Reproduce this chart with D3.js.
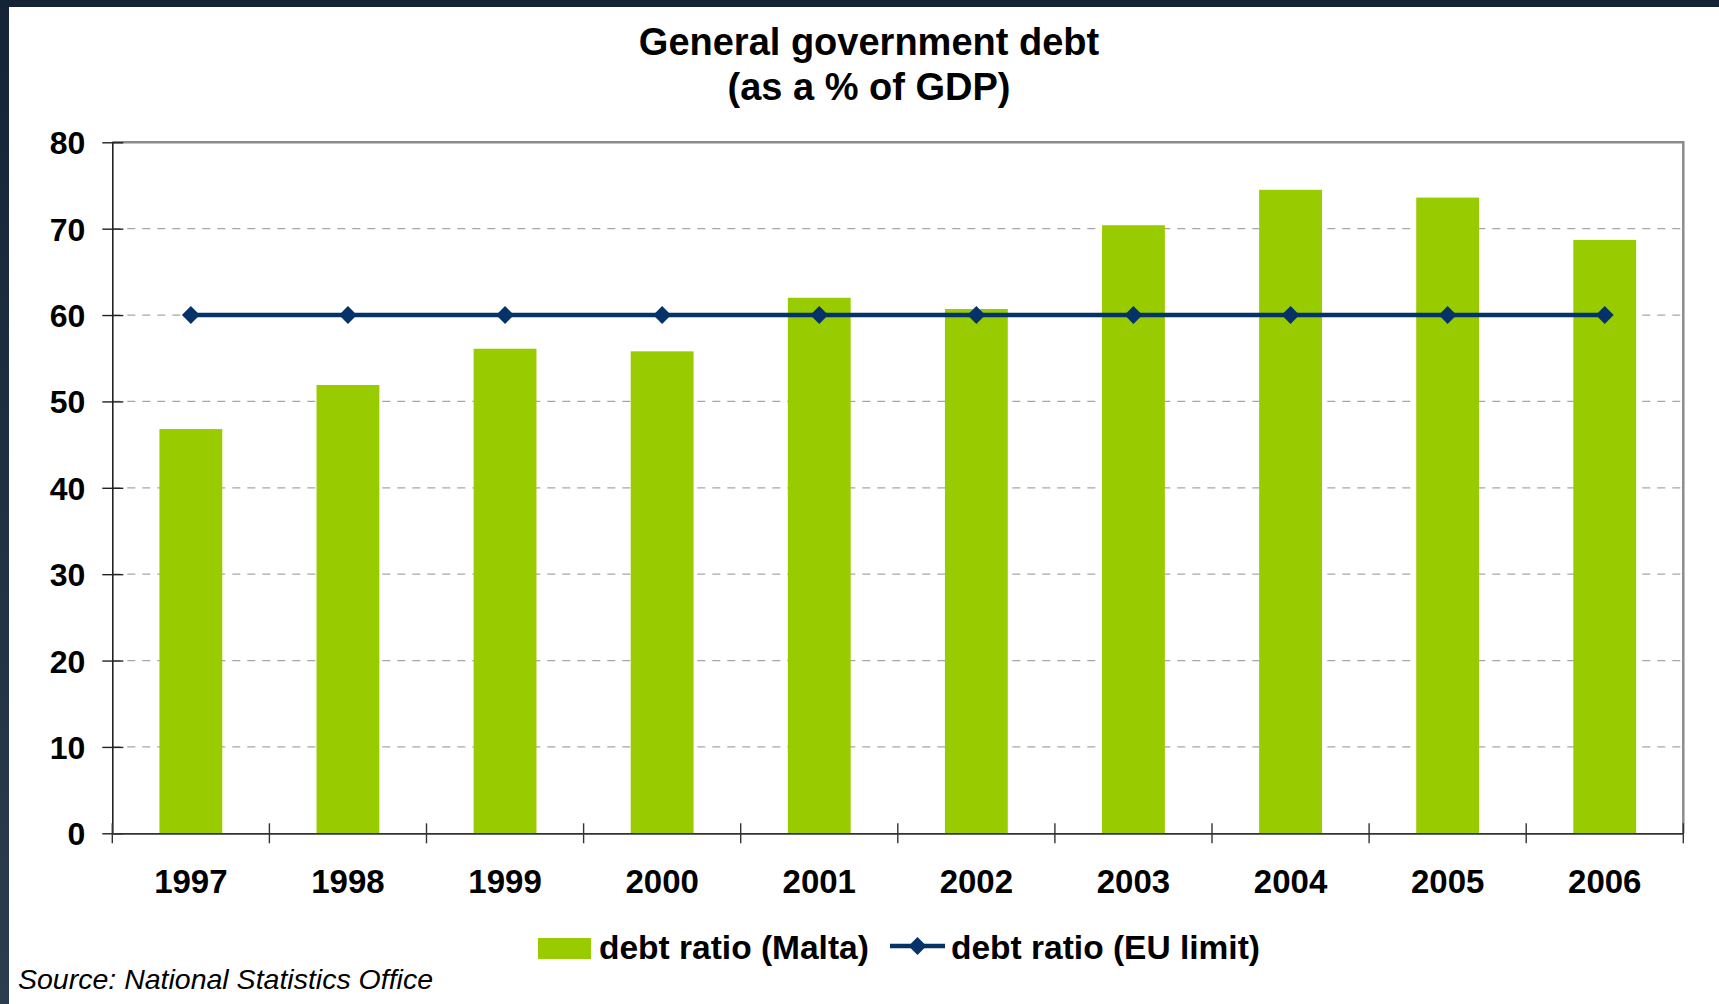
<!DOCTYPE html>
<html>
<head>
<meta charset="utf-8">
<script src="https://d3js.org/d3.v7.min.js"></script>
<style>
  body { margin: 0; background: #ffffff; }
  svg { display: block; font-family: "Liberation Sans", Arial, sans-serif; }
</style>
</head>
<body>
<div id="scene1"></div>
<script>
// chart data
var years = ["1997", "1998", "1999", "2000", "2001", "2002", "2003", "2004", "2005", "2006"];
var debtMalta = [46.8, 51.9, 56.1, 55.8, 62.0, 60.7, 70.4, 74.5, 73.6, 68.7];
var debtEuLimit = [60, 60, 60, 60, 60, 60, 60, 60, 60, 60];
var yTicks = [0, 10, 20, 30, 40, 50, 60, 70, 80];
var titleLines = ["General government debt", "(as a % of GDP)"];
var legendLabels = ["debt ratio (Malta)", "debt ratio (EU limit)"];
var sourceNote = "Source: National Statistics Office";

var barColor = "#99cc00";
var lineColor = "#06326a";

function init() {
    var W = 1719, H = 1004;
    var plot = {left: 112.3, right: 1683.3, top: 142.3, bottom: 833.3};

    var svg = d3.select("#scene1")
        .append("svg")
        .attr("width", W)
        .attr("height", H);

    // dark slide frame (top strip + left strip)
    var grad = svg.append("defs").append("linearGradient")
        .attr("id", "edge").attr("x1", 0).attr("y1", 0).attr("x2", 0).attr("y2", 1);
    grad.append("stop").attr("offset", "0%").attr("stop-color", "#142336");
    grad.append("stop").attr("offset", "100%").attr("stop-color", "#2c3c51");
    svg.append("rect").attr("x", 0).attr("y", 0).attr("width", 9).attr("height", H).attr("fill", "url(#edge)");
    svg.append("rect").attr("x", 0).attr("y", 0).attr("width", W).attr("height", 7).attr("fill", "#142336");

    // title
    svg.append("text")
        .attr("text-anchor", "middle")
        .attr("font-weight", "bold")
        .attr("font-size", 38)
        .attr("fill", "#000")
        .selectAll("tspan")
        .data(titleLines)
        .enter()
        .append("tspan")
        .attr("x", 869)
        .attr("y", function(d, i) { return 55 + i * 45; })
        .text(function(d) { return d; });

    // scales
    var x = d3.scaleBand()
        .domain(years)
        .range([plot.left, plot.right])
        .paddingInner(0.6)
        .paddingOuter(0.3);

    var y = d3.scaleLinear()
        .domain([0, 80])
        .range([plot.bottom, plot.top]);

    // dashed gridlines
    svg.append("g")
        .selectAll("line")
        .data(yTicks.filter(function(d) { return d > 0 && d < 80; }))
        .enter()
        .append("line")
        .attr("x1", plot.left)
        .attr("x2", plot.right)
        .attr("y1", function(d) { return y(d); })
        .attr("y2", function(d) { return y(d); })
        .attr("stroke", "#a6a6a6")
        .attr("stroke-width", 1.3)
        .attr("stroke-dasharray", "8,7");

    // top and right frame of the plot area
    svg.append("path")
        .attr("d", "M" + plot.left + "," + y(80) + "H" + plot.right + "V" + plot.bottom)
        .attr("fill", "none")
        .attr("stroke", "#8c8c8c")
        .attr("stroke-width", 2.5);

    // bars
    svg.append("g")
        .selectAll("rect")
        .data(years)
        .enter()
        .append("rect")
        .attr("x", function(d) { return x(d); })
        .attr("width", x.bandwidth())
        .attr("y", function(d, i) { return y(debtMalta[i]); })
        .attr("height", function(d, i) { return y(0) - y(debtMalta[i]); })
        .attr("fill", barColor);

    // EU limit line with diamond markers
    var line = d3.line()
        .x(function(d, i) { return x(years[i]) + x.bandwidth() / 2; })
        .y(function(d) { return y(d); });

    svg.append("path")
        .datum(debtEuLimit)
        .attr("d", line)
        .attr("fill", "none")
        .attr("stroke", lineColor)
        .attr("stroke-width", 4.5);

    var diamond = d3.symbol().type(d3.symbolSquare).size(160);
    svg.append("g")
        .selectAll("path")
        .data(debtEuLimit)
        .enter()
        .append("path")
        .attr("d", diamond)
        .attr("transform", function(d, i) {
            return "translate(" + (x(years[i]) + x.bandwidth() / 2) + "," + y(d) + ") rotate(45)";
        })
        .attr("fill", lineColor);

    // lets draw Y axis
    var yAxis = svg.append("g")
        .attr("transform", "translate(" + plot.left + ",0)")
        .call(d3.axisLeft(y).tickValues(yTicks).tickSizeOuter(0));
    yAxis.select(".domain").attr("stroke", "#222").attr("stroke-width", 1.6);
    yAxis.selectAll(".tick line").attr("x1", 11).attr("x2", -10).attr("stroke", "#222").attr("stroke-width", 1.4);
    yAxis.selectAll(".tick text")
        .attr("x", -27)
        .attr("dy", "0.36em")
        .attr("font-size", 32)
        .attr("font-weight", "bold")
        .attr("font-family", "Liberation Sans, Arial, sans-serif")
        .attr("fill", "#000");

    // lets draw X axis (labels centred in bands, ticks on band edges)
    var xAxis = svg.append("g")
        .attr("transform", "translate(0," + plot.bottom + ")")
        .call(d3.axisBottom(x).tickSize(0).tickSizeOuter(0));
    xAxis.select(".domain").attr("stroke", "#333").attr("stroke-width", 1.8);
    xAxis.selectAll(".tick text")
        .attr("y", 0)
        .attr("dy", 60)
        .attr("font-size", 33)
        .attr("font-weight", "bold")
        .attr("font-family", "Liberation Sans, Arial, sans-serif")
        .attr("fill", "#000");

    var edges = d3.range(years.length + 1).map(function(i) { return plot.left + i * x.step(); });
    xAxis.selectAll(".edge")
        .data(edges)
        .enter()
        .append("line")
        .attr("class", "edge")
        .attr("x1", function(d) { return d; })
        .attr("x2", function(d) { return d; })
        .attr("y1", -10)
        .attr("y2", 10)
        .attr("stroke", "#333")
        .attr("stroke-width", 1.4);

    // legend
    var legend = svg.append("g");
    legend.append("rect")
        .attr("x", 538).attr("y", 938)
        .attr("width", 53).attr("height", 21)
        .attr("fill", barColor);
    legend.append("line")
        .attr("x1", 890).attr("x2", 945)
        .attr("y1", 946).attr("y2", 946)
        .attr("stroke", lineColor)
        .attr("stroke-width", 4.5);
    legend.append("path")
        .attr("d", diamond)
        .attr("transform", "translate(917.5,946) rotate(45)")
        .attr("fill", lineColor);
    legend.selectAll("text")
        .data(legendLabels)
        .enter()
        .append("text")
        .attr("x", function(d, i) { return i == 0 ? 599 : 951; })
        .attr("y", 959)
        .attr("font-size", 33.5)
        .attr("font-weight", "bold")
        .attr("fill", "#000")
        .text(function(d) { return d; });

    // source note
    svg.append("text")
        .attr("x", 18)
        .attr("y", 989)
        .attr("font-size", 28.5)
        .attr("font-style", "italic")
        .attr("fill", "#000")
        .text(sourceNote);
}

init();
</script>
</body>
</html>
